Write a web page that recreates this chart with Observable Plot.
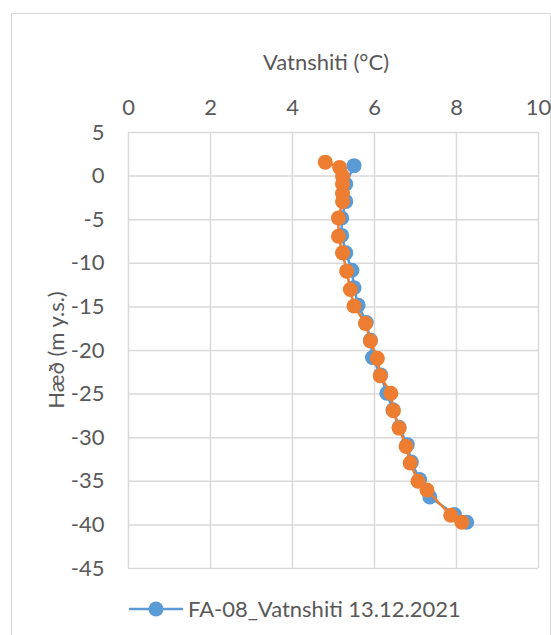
<!DOCTYPE html>
<html>
<head>
<meta charset="utf-8">
<script src="https://cdn.jsdelivr.net/npm/d3@7"></script>
<script src="https://cdn.jsdelivr.net/npm/@observablehq/plot@0.6"></script>
<style>
  html, body { margin: 0; padding: 0; background: #fff; }
  body { width: 551px; height: 635px; overflow: hidden; position: relative; font-family: Lato, "Open Sans", sans-serif; color: #595959; }
  #frame { position: absolute; left: 11px; top: 13px; width: 540px; height: 640px; border: 1px solid #d9d9d9; box-sizing: border-box; }
  #chart { position: absolute; left: 0; top: 0; }
  #chart svg text { font-size: 22px !important; font-family: Lato, "Open Sans", sans-serif !important; fill: #595959; }
  .title { position: absolute; font-size: 22px; white-space: nowrap; line-height: 1; }
  #xtitle { left: 326px; top: 62px; transform: translate(-50%, -50%); }
  #ytitle { left: 56px; top: 350px; transform: translate(-50%, -50%) rotate(-90deg); }
  #legend { position: absolute; left: 128px; top: 609px; transform: translateY(-50%); display: flex; align-items: center; font-size: 22px; line-height: 1; white-space: nowrap; }
  #legend svg { margin-right: 4px; display: block; }
</style>
</head>
<body>
<div id="frame"></div>
<div id="chart"></div>
<div id="xtitle" class="title"></div>
<div id="ytitle" class="title"></div>
<div id="legend"></div>
<script>
// Series 1 (blue): FA-08_Vatnshiti 13.12.2021
const blueTemp = [5.5, 5.3, 5.3, 5.2, 5.2, 5.3, 5.45, 5.5, 5.6, 5.8, 5.9, 5.95, 6.15, 6.3, 6.45, 6.6, 6.8, 6.9, 7.1, 7.35, 7.95, 8.25];
const blueElev = [1.2, -0.9, -2.9, -4.8, -6.8, -8.8, -10.8, -12.8, -14.8, -16.8, -18.8, -20.8, -22.8, -24.9, -26.8, -28.8, -30.8, -32.8, -34.8, -36.8, -38.8, -39.7];
// Series 2 (orange)
const orangeTemp = [4.8, 5.15, 5.22, 5.22, 5.22, 5.22, 5.12, 5.12, 5.22, 5.32, 5.41, 5.5, 5.78, 5.9, 6.07, 6.14, 6.4, 6.46, 6.6, 6.77, 6.87, 7.06, 7.28, 7.86, 8.13];
const orangeElev = [1.6, 1.0, 0, -0.9, -2.0, -2.9, -4.8, -6.9, -8.8, -10.9, -13.0, -14.9, -16.9, -18.9, -20.9, -22.9, -24.9, -26.9, -28.9, -31.0, -32.9, -35.0, -36.0, -38.9, -39.7];

const xTicks = [0, 2, 4, 6, 8, 10];
const yTicks = [5, 0, -5, -10, -15, -20, -25, -30, -35, -40, -45];
const xTitle = "Vatnshiti (°C)";
const yTitle = "Hæð (m y.s.)";
const legendLabel = "FA-08_Vatnshiti 13.12.2021";

const blue = "#5B9BD5", orange = "#ED7D31", textColor = "#595959", gridColor = "#d9d9d9";

const blueData = blueTemp.map((t, i) => ({t, h: blueElev[i]}));
const orangeData = orangeTemp.map((t, i) => ({t, h: orangeElev[i]}));

const chart = Plot.plot({
  width: 551,
  height: 585,
  marginLeft: 128,
  marginRight: 13,
  marginTop: 132,
  marginBottom: 17,
  style: { background: "transparent", overflow: "visible" },
  x: { domain: [0, 10] },
  y: { domain: [-45, 5] },
  marks: [
    Plot.gridX(xTicks, { stroke: gridColor, strokeOpacity: 1, strokeWidth: 1.5 }),
    Plot.gridY(yTicks, { stroke: gridColor, strokeOpacity: 1, strokeWidth: 1.5 }),
    Plot.axisX(xTicks, { anchor: "top", tickSize: 0, tickPadding: 18, label: null, tickFormat: d => String(d) }),
    Plot.axisY(yTicks, { anchor: "left", tickSize: 0, tickPadding: 24, label: null, tickFormat: d => String(d) }),
    Plot.line(blueData, { x: "t", y: "h", stroke: blue, strokeWidth: 2.5 }),
    Plot.dot(blueData, { x: "t", y: "h", r: 7.5, fill: blue, stroke: "none" }),
    Plot.line(orangeData, { x: "t", y: "h", stroke: orange, strokeWidth: 2.5 }),
    Plot.dot(orangeData, { x: "t", y: "h", r: 7.5, fill: orange, stroke: "none" })
  ]
});
document.getElementById("chart").appendChild(chart);

document.getElementById("xtitle").textContent = xTitle;
document.getElementById("ytitle").textContent = yTitle;
const legend = document.getElementById("legend");
legend.innerHTML = `<svg width="56" height="18"><line x1="1" x2="55" y1="9" y2="9" stroke="${blue}" stroke-width="2.5"/><circle cx="28" cy="9" r="7.5" fill="${blue}"/></svg><span>${legendLabel}</span>`;
</script>
</body>
</html>
